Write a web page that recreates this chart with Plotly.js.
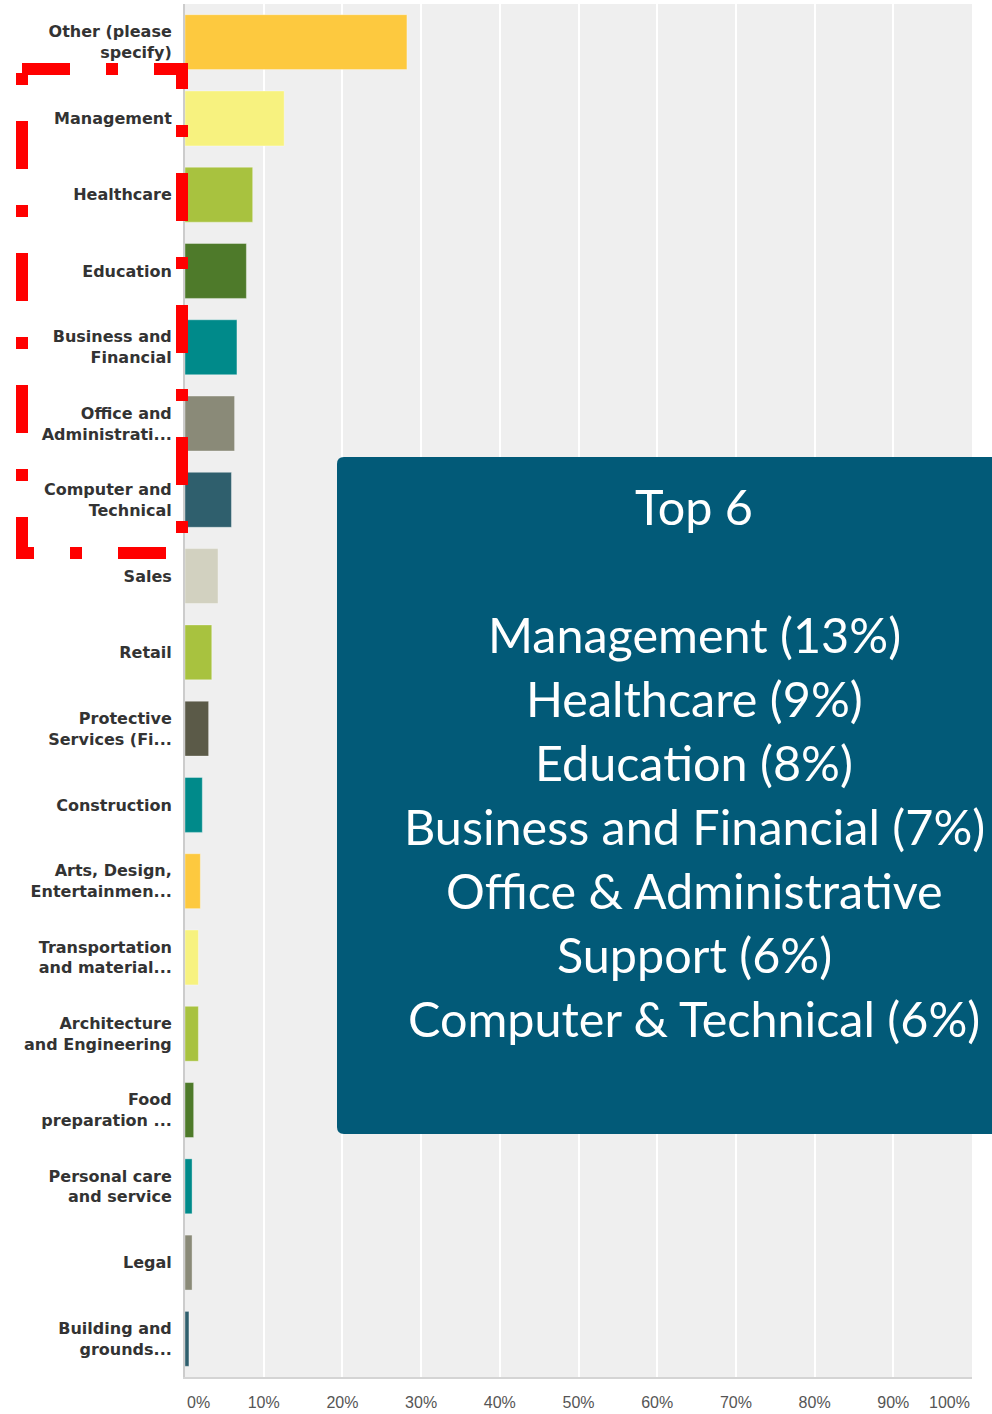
<!DOCTYPE html>
<html>
<head>
<meta charset="utf-8">
<script src="https://cdn.plot.ly/plotly-3.0.1.min.js"></script>
<style>
  html, body { margin: 0; padding: 0; background: #ffffff; }
  #chart { width: 992px; height: 1414px; }
</style>
</head>
<body>
<div id="chart"></div>
<script>
// ---- data ----
const categories = [
  "Other (please<br>specify)",
  "Management",
  "Healthcare",
  "Education",
  "Business and<br>Financial",
  "Office and<br>Administrati...",
  "Computer and<br>Technical",
  "Sales",
  "Retail",
  "Protective<br>Services (Fi...",
  "Construction",
  "Arts, Design,<br>Entertainmen...",
  "Transportation<br>and material...",
  "Architecture<br>and Engineering",
  "Food<br>preparation ...",
  "Personal care<br>and service",
  "Legal",
  "Building and<br>grounds..."
];
const percents = [28.2, 12.6, 8.6, 7.8, 6.6, 6.3, 5.9, 4.2, 3.4, 3.0, 2.2, 1.95, 1.7, 1.7, 1.1, 0.9, 0.9, 0.5];
const barColors = [
  "#fdc93f", "#f7f27f", "#a8c23f", "#4e7a2a", "#008a8a", "#8a8a78",
  "#2f5f6d", "#d2d1c0", "#a8c23f", "#5b5a48", "#008a8a", "#fdc93f",
  "#f7f27f", "#a8c23f", "#4e7a2a", "#008a8a", "#8a8a78", "#2f5f6d"
];
const tickValues = [0, 10, 20, 30, 40, 50, 60, 70, 80, 90, 100];
const tickLabels = ["0%", "10%", "20%", "30%", "40%", "50%", "60%", "70%", "80%", "90%", "100%"];
const boxTitle = "Top 6";
const boxLines = [
  "Management (13%)",
  "Healthcare (9%)",
  "Education (8%)",
  "Business and Financial (7%)",
  "Office & Administrative",
  "Support (6%)",
  "Computer & Technical (6%)"
];

// ---- layout geometry (pixels) ----
const W = 992, H = 1414;
const M = { l: 185, r: 20, t: 4, b: 37 };
const PW = W - M.l - M.r, PH = H - M.t - M.b;
const px = x => (x - M.l) / PW;
const py = y => (H - M.b - y) / PH;

const trace = {
  type: "bar",
  orientation: "h",
  x: percents,
  y: categories,
  marker: {
    color: barColors,
    line: { color: "rgba(255,255,255,0.35)", width: 1 }
  },
  hoverinfo: "x+y"
};

// dashed red highlight box (top-left to right, down, back)
const rx0 = px(22), rx1 = px(182), ry0 = py(69), ry1 = py(553);
const redPath = `M ${rx0} ${ry0} L ${rx1} ${ry0} L ${rx1} ${ry1} L ${rx0} ${ry1} Z`;

// rounded dark-blue callout box
const bx0 = px(337), bx1 = px(1060), byT = py(457), byB = py(1134);
const rX = 7 / PW, rY = 7 / PH;
const boxPath = `M ${bx0 + rX} ${byT} L ${bx1} ${byT} L ${bx1} ${byB} L ${bx0 + rX} ${byB} ` +
  `Q ${bx0} ${byB} ${bx0} ${byB + rY} L ${bx0} ${byT - rY} Q ${bx0} ${byT} ${bx0 + rX} ${byT} Z`;

const textX = px(694);
const boxFont = { family: "Lato, 'Open Sans', sans-serif", size: 48.5, color: "#ffffff" };
const annotations = [];
annotations.push({
  xref: "paper", yref: "paper", x: textX, y: py(506), xanchor: "center", yanchor: "middle",
  text: boxTitle, showarrow: false, font: boxFont
});
boxLines.forEach((t, i) => {
  annotations.push({
    xref: "paper", yref: "paper", x: textX, y: py(634 + 64 * i), xanchor: "center", yanchor: "middle",
    text: t, showarrow: false, font: boxFont
  });
});
// end tick labels (0% left-aligned, 100% right-aligned)
const tickFont = { family: "'Liberation Sans', Arial, sans-serif", size: 16, color: "#555555" };
annotations.push({
  xref: "x", yref: "paper", x: tickValues[0], y: 0, yshift: -25, xanchor: "left", yanchor: "middle",
  text: tickLabels[0], showarrow: false, font: tickFont
});
annotations.push({
  xref: "x", yref: "paper", x: tickValues[tickValues.length - 1], y: 0, yshift: -25, xanchor: "right", yanchor: "middle",
  text: tickLabels[tickLabels.length - 1], showarrow: false, font: tickFont
});

const layout = {
  width: W, height: H,
  margin: M,
  paper_bgcolor: "#ffffff",
  plot_bgcolor: "#efefef",
  showlegend: false,
  bargap: 0.28,
  xaxis: {
    range: [0, 100],
    tickvals: tickValues.slice(1, -1),
    ticktext: tickLabels.slice(1, -1),
    showgrid: true, gridcolor: "#ffffff", gridwidth: 2,
    zeroline: false,
    showline: true, linecolor: "#d4d4d4", linewidth: 2,
    ticks: "", ticklabelstandoff: 10,
    tickfont: tickFont,
    fixedrange: true
  },
  yaxis: {
    autorange: "reversed",
    type: "category",
    showgrid: false, zeroline: false,
    showline: true, linecolor: "#cccccc", linewidth: 2,
    ticks: "", ticklabelstandoff: 8,
    tickfont: { family: "'DejaVu Sans', Verdana, sans-serif", size: 16, color: "#333333", weight: "bold" },
    fixedrange: true
  },
  shapes: [
    { type: "path", xref: "paper", yref: "paper", path: boxPath,
      fillcolor: "#025a78", line: { width: 0 }, layer: "above" },
    { type: "path", xref: "paper", yref: "paper", path: redPath,
      fillcolor: "rgba(0,0,0,0)", line: { color: "#ff0000", width: 12, dash: "48px,36px,12px,36px" }, layer: "above" }
  ],
  annotations: annotations
};

Plotly.newPlot("chart", [trace], layout, { displayModeBar: false, staticPlot: true });
</script>
</body>
</html>
